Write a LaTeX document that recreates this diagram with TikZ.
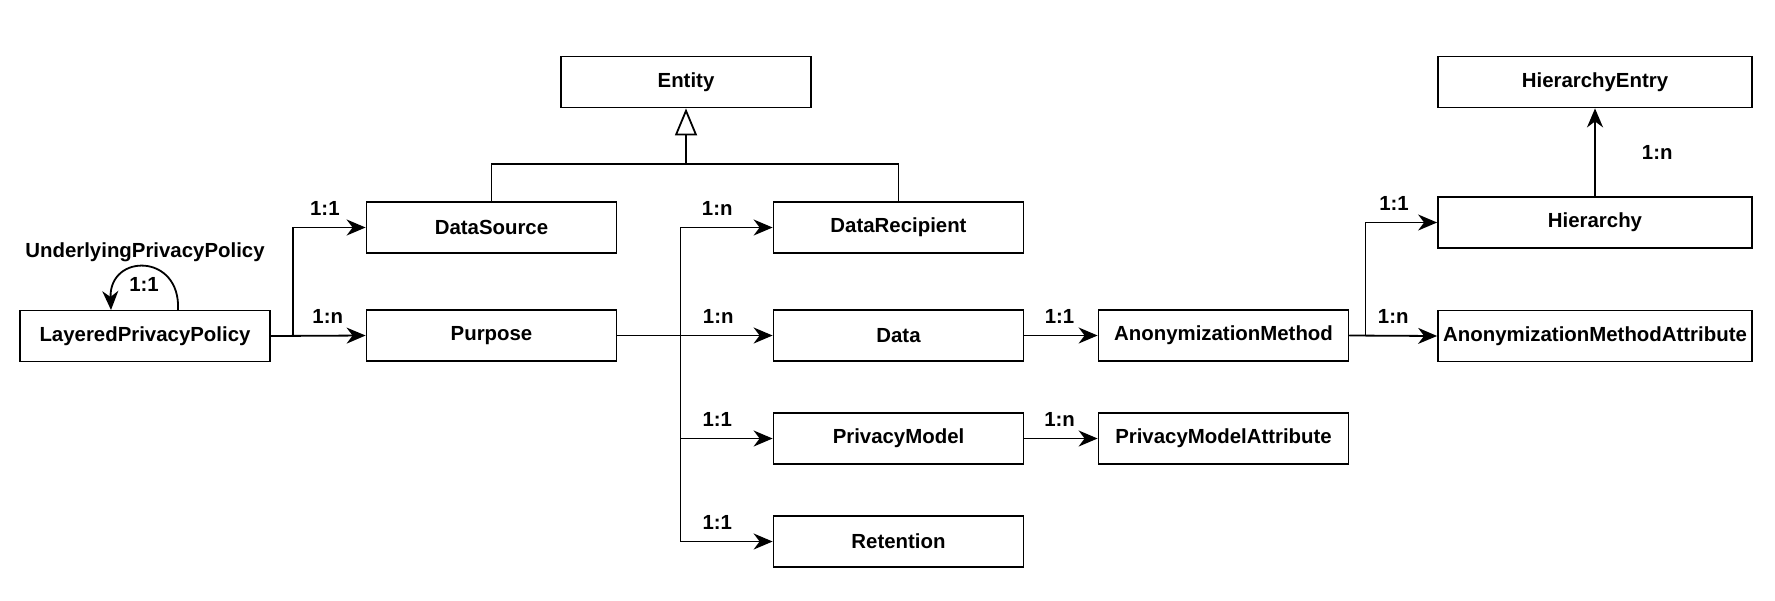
\documentclass[tikz,border=0pt]{standalone}
\usepackage{fontspec}
\setmainfont{Liberation Sans}
\usetikzlibrary{arrows.meta}
\begin{document}
\begin{tikzpicture}[x=0.5pt,y=-0.5pt,
  box/.style={draw, line width=0.9pt, minimum width=125pt, minimum height=25.5pt, inner sep=0pt, font=\fontsize{10.2}{12}\selectfont\bfseries},
  wbox/.style={box, minimum width=157pt},
  arr/.style={line width=0.9pt, -{Stealth[length=9.5pt,width=8pt,inset=3pt]}},
  ln/.style={line width=0.9pt},
  txt/.style={font=\fontsize{10.2}{12}\selectfont\bfseries, inner sep=0pt},
  lbl/.style={txt, anchor=south, yshift=5.5pt}]
\useasboundingbox (0,0) rectangle (1775,600);
\node[box] (entity) at (686,82) {Entity};
\node[box] (ds) at (491.5,227.5) {DataSource};
\node[box] (dr) at (898.5,227.5) {DataRecipient};
\node[box] (lpp) at (145,336) {LayeredPrivacyPolicy};
\node[box] (purpose) at (491.5,335.5) {Purpose};
\node[box] (data) at (898.5,335.5) {Data};
\node[box] (pm) at (898.5,438.5) {PrivacyModel};
\node[box] (ret) at (898.5,541.5) {Retention};
\node[box] (am) at (1223.5,335.5) {AnonymizationMethod};
\node[box] (pma) at (1223.5,438.5) {PrivacyModelAttribute};
\node[wbox] (he) at (1595,82) {HierarchyEntry};
\node[wbox] (hier) at (1595,222.5) {Hierarchy};
\node[wbox] (ama) at (1595,336) {AnonymizationMethodAttribute};
% inheritance
\coordinate (inh) at (entity.south |- 0,164);
\draw[ln] (ds.north) |- (inh) -| (dr.north);
\draw[ln, -{Triangle[open,length=13.5pt,width=11pt]}] (inh) -- (entity.south);
% self loop
\coordinate (lpa) at (178,310);
\coordinate (lpb) at (111,310);
\draw[arr] (lpa) .. controls (181,253) and (109,253) .. (lpb);
\node[txt, anchor=base] (loopl) at (144,291) {1:1};
\node[txt, anchor=base] (upp) at (145,257) {UnderlyingPrivacyPolicy};
% LPP branches
\draw[arr] (lpp.east) -- ++(22,0) |- node[lbl, pos=0.72] {1:1} (ds.west);
\draw[arr] (lpp.east) -- node[lbl, pos=0.6] {1:n} (purpose.west);
% Purpose branches
\draw[arr] (purpose.east) -- ++(63,0) |- node[lbl, pos=0.7] {1:n} (dr.west);
\draw[arr] (purpose.east) -- node[lbl, pos=0.65] {1:n} (data.west);
\draw[arr] (purpose.east) -- ++(63,0) |- node[lbl, pos=0.7] {1:1} (pm.west);
\draw[arr] (purpose.east) -- ++(63,0) |- node[lbl, pos=0.7] {1:1} (ret.west);
% Data, PM
\draw[arr] (data.east) -- node[lbl, pos=0.48] {1:1} (am.west);
\draw[arr] (pm.east) -- node[lbl, pos=0.48] {1:n} (pma.west);
% AM branches
\draw[arr] (am.east) -- ++(16,0) |- node[lbl, pos=0.7] {1:1} (hier.west);
\draw[arr] (am.east) -- node[lbl, pos=0.5] {1:n} (ama.west);
% Hierarchy to entry
\draw[arr] (hier.north) -- node[txt, anchor=west, xshift=23pt, pos=0.5] {1:n} (he.south);
\end{tikzpicture}
\end{document}
